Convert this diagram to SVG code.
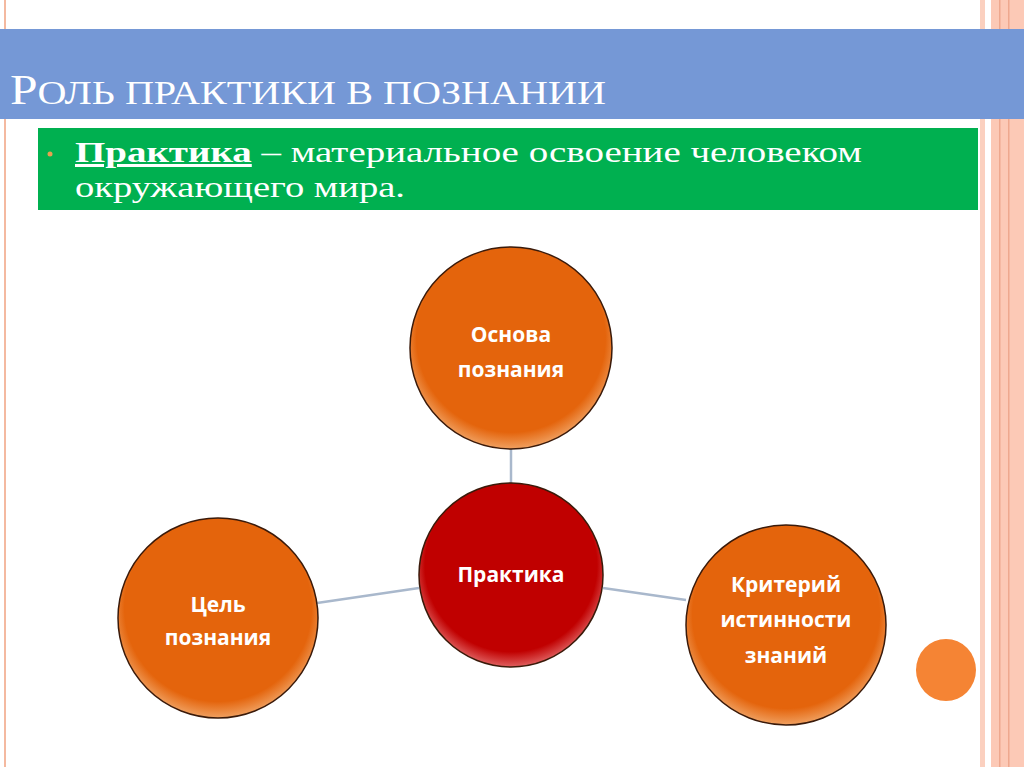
<svg xmlns="http://www.w3.org/2000/svg" width="1024" height="767" viewBox="0 0 1024 767">
<defs>
<style>
.node{stroke:#3a1a0a;stroke-width:1.5}
.lbl{font-family:"Open Sans","DejaVu Sans",sans-serif;font-weight:bold;font-size:21px;fill:#fff;text-anchor:middle}
.conn{stroke:#a9b8cc;stroke-width:2.5;fill:none}
</style>
<radialGradient id="og" cx="50%" cy="45%" r="55%"><stop offset="0.85" stop-color="#e4640c"/><stop offset="1" stop-color="#f0a060"/></radialGradient>
<radialGradient id="rg" cx="50%" cy="45%" r="55%"><stop offset="0.85" stop-color="#c00000"/><stop offset="1" stop-color="#e06060"/></radialGradient>
</defs>
<rect width="1024" height="767" fill="#fff"/>
<rect x="4" y="0" width="2" height="767" fill="#f4b9a0"/>
<rect x="980" y="0" width="5" height="767" fill="#fbd0bf"/>
<rect x="991" y="0" width="33" height="767" fill="#fcc9b6"/>
<rect x="999" y="0" width="1.5" height="767" fill="#eea88e"/>
<rect x="1008" y="0" width="1.5" height="767" fill="#eea88e"/>
<rect x="0" y="29" width="1024" height="90" fill="#7598d6"/>
<text x="10" y="104" font-family="Liberation Serif,serif" font-size="42" fill="#fff" textLength="596" lengthAdjust="spacingAndGlyphs">Р<tspan font-size="34">ОЛЬ ПРАКТИКИ В ПОЗНАНИИ</tspan></text>
<rect x="38" y="128" width="940" height="82" fill="#00b050"/>
<circle cx="50" cy="154" r="2.5" fill="#e8a050"/>
<text font-family="Liberation Serif,serif" font-size="30" fill="#fff" x="75" y="162" textLength="787" lengthAdjust="spacingAndGlyphs"><tspan font-weight="bold" text-decoration="underline">Практика</tspan> – материальное освоение человеком</text>
<text font-family="Liberation Serif,serif" font-size="30" fill="#fff" x="75" y="197" textLength="330" lengthAdjust="spacingAndGlyphs">окружающего мира.</text>
<g id="connectors">
<line class="conn" x1="511" y1="449" x2="511" y2="483"/>
<line class="conn" x1="317" y1="603" x2="419" y2="588"/>
<line class="conn" x1="603" y1="588" x2="686" y2="600"/>
</g>
<g id="n-top"><circle class="node" cx="511" cy="348" r="101" fill="url(#og)"/><text class="lbl" x="511" y="342">Основа</text><text class="lbl" x="511" y="377">познания</text></g>
<g id="n-center"><circle class="node" cx="511" cy="575" r="92" fill="url(#rg)"/><text class="lbl" x="511" y="582">Практика</text></g>
<g id="n-left"><circle class="node" cx="218" cy="618" r="100" fill="url(#og)"/><text class="lbl" x="218" y="612">Цель</text><text class="lbl" x="218" y="645">познания</text></g>
<g id="n-right"><circle class="node" cx="786" cy="625" r="100" fill="url(#og)"/><text class="lbl" x="786" y="592">Критерий</text><text class="lbl" x="786" y="627">истинности</text><text class="lbl" x="786" y="663">знаний</text></g>
<ellipse cx="946" cy="670" rx="30" ry="31" fill="#f58434"/>
</svg>
